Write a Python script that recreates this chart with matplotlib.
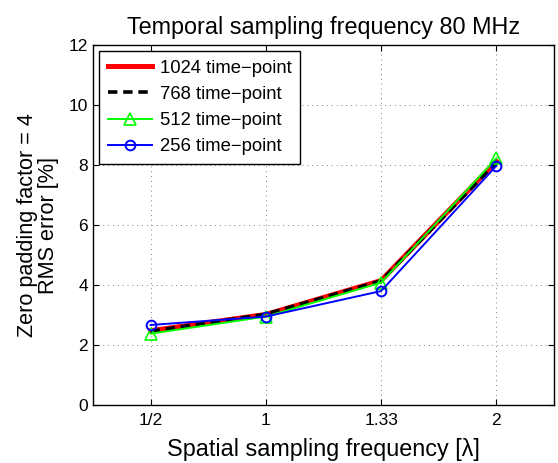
import matplotlib.pyplot as plt

plt.rcParams['font.family'] = ['Liberation Sans', 'DejaVu Sans']

# 数据
x_labels = ['1/2', '1', '1.33', '2']
err_1024 = [2.48, 3.02, 4.15, 8.12]
err_768 = [2.46, 3.03, 4.14, 8.08]
err_512 = [2.38, 2.95, 4.08, 8.22]
err_256 = [2.67, 2.95, 3.80, 7.97]

x = list(range(1, len(x_labels) + 1))

fig = plt.figure(figsize=(5.58, 4.63), dpi=100)
ax = fig.add_axes([0.1667, 0.125, 0.826, 0.778])

ax.plot(x, err_1024, color='red', linewidth=3.6, label='1024 time\u2212point')
ax.plot(x, err_768, color='black', linewidth=2.6, linestyle=(0, (2.6, 1.6)), label='768 time\u2212point')
ax.plot(x, err_512, color=(0, 1, 0), linewidth=1.4, marker='^', markersize=8.5,
        markerfacecolor='none', markeredgewidth=1.2, label='512 time\u2212point')
ax.plot(x, err_256, color='blue', linewidth=1.4, marker='o', markersize=7,
        markerfacecolor='none', markeredgewidth=1.4, label='256 time\u2212point')

ax.set_xlim(0.5, 4.5)
ax.set_ylim(0, 12)
ax.set_xticks(x)
ax.set_xticklabels(x_labels)
ax.set_yticks(range(0, 13, 2))
ax.tick_params(direction='in', top=True, right=True, labelsize=12.5, length=4)
ax.tick_params(axis='x', pad=6)
ax.grid(True, linestyle=(0, (1, 4)), color='black', linewidth=0.7, alpha=0.5)
for s in ax.spines.values():
    s.set_linewidth(1.0)

ax.set_title('Temporal sampling frequency 80 MHz', fontsize=16.8, pad=8)
ax.set_xlabel('Spatial sampling frequency [\u03bb]', fontsize=16.8, labelpad=7)
ax.set_ylabel('Zero padding factor = 4\nRMS error [%]', fontsize=15.6, labelpad=7,
              linespacing=1.0)

leg = ax.legend(loc='upper left', fontsize=13.3, handlelength=2.4, handletextpad=0.4,
                fancybox=False, framealpha=1, edgecolor='black', borderaxespad=0.35,
                labelspacing=0.5, borderpad=0.45)
leg.get_frame().set_linewidth(1.0)

plt.savefig('out.png')
